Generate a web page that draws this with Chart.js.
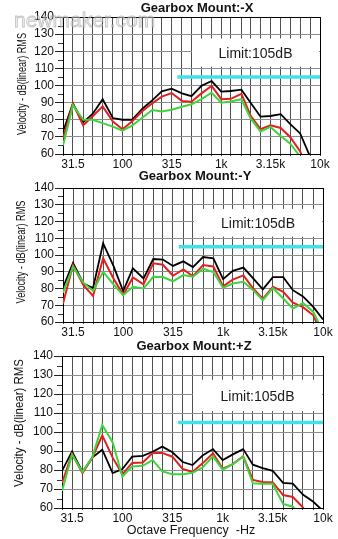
<!DOCTYPE html>
<html><head><meta charset="utf-8">
<script src="https://cdn.jsdelivr.net/npm/chart.js@4.4.1/dist/chart.umd.min.js"></script>
<style>
html,body{margin:0;padding:0;background:#fff;width:338px;height:539px;overflow:hidden}
canvas{position:absolute;left:0}
</style></head><body>
<canvas id="c1" width="338" height="170" style="top:0px"></canvas>
<canvas id="c2" width="338" height="170" style="top:170px"></canvas>
<canvas id="c3" width="338" height="199" style="top:340px"></canvas>
<script>
// 1/3-octave band centre frequencies (Hz) and their labels
const bands = [25,31.5,40,50,63,80,100,125,160,200,250,315,400,500,630,800,1000,1250,1600,2000,2500,3150,4000,5000,6300,8000,10000];
const bandLabels = ['25','31.5','40','50','63','80','100','125','160','200','250','315','400','500','630','800','1k','1.25k','1.6k','2k','2.5k','3.15k','4k','5k','6.3k','8k','10k'];
const shownLabels = ['31.5','100','315','1k','3.15k','10k'];
const yTicks = [60,70,80,90,100,110,120,130,140];

// Limit line
const limitLevel = 105;
const limitFromHz = 360;
const limitToHz = 10000;
const limitText = 'Limit:105dB';

// Gearbox Mount:-X
const xBlack = [73,89.5,78.5,83.5,92,81,80,80,86.6,91.3,96.6,98.2,95.4,93.8,99.8,102.6,96.4,96.8,97.6,89.6,81.8,82.2,83.3,77.5,72,58,null];
const xRed   = [69,89.5,76.8,82,87.8,79,74.5,79,85.2,89.6,93.5,95.6,91,90.5,95.4,99.7,92,92.2,95.1,82,74.5,76.8,75.2,69.8,61.5,47,null];
const xGreen = [65,88.5,80,80,78,76,73.6,76.6,81.3,85.7,84.8,85.8,87.6,89,92,95.8,90,90.6,92,80.5,73.2,75.8,70.5,66,58.5,null,null];

// Gearbox Mount:-Y
const yBlack = [80.5,95.2,83,80.3,107,93.5,78.5,92,86,97.6,97.3,93.5,96.2,92.8,98.8,98,85.6,90.5,92.5,86,79.5,86.8,86.8,79,75.3,69,61.5];
const yRed   = [71,94,82,75.6,98,86,76.2,86.6,82.5,95,94.2,87.6,91.4,87.3,94,93.2,81.3,85.3,87.8,80,73.8,81,78,71.6,68.9,64,51];
const yGreen = [77.5,93,83.5,78.5,90,82.5,76,81,80,87,86.8,84.3,88,87,91.8,89.8,80.4,83,84,79,73,80.3,74,68,71.3,66,54];

// Gearbox Mount:+Z
const zBlack = [79.5,89.8,79,86.5,90.7,78.4,80.5,87,87.4,89.6,92.3,89.3,84.2,82.6,87.6,91,85.2,88.1,91,82.8,81,79.6,73.2,72.8,67.1,63.3,58.5];
const zRed   = [73.2,88.4,78.4,86.3,98.2,86.5,77.7,83.7,84,88.9,89,87,80.5,79,83.5,88.8,80.7,83,87.2,74.8,73.7,73.6,66.8,65.8,60.3,52,null];
const zGreen = [69,88.2,79,86.5,103.7,94.5,76.5,81.8,82.2,85.3,79.3,77.7,77.8,78.5,81.3,87.2,80.2,83,87,73,72.8,72.8,62.1,60.7,55,null,null];

const FONT = '"Liberation Sans", Arial, sans-serif';

const decor = {
  id: 'decor',
  beforeDatasetsDraw(chart, args, o) {
    const {ctx, chartArea: ca} = chart;
    const x = chart.scales.x, y = chart.scales.y;
    ctx.save();
    // white label box
    const x0 = Math.round(x.getPixelForValue(o.boxFromHz)) + 1;
    const x1 = ca.right - 1;
    const y0 = y.getPixelForValue(o.boxTop), y1 = y.getPixelForValue(o.boxBottom);
    ctx.fillStyle = '#fff';
    ctx.fillRect(x0, y0, x1 - x0, y1 - y0);
    ctx.fillStyle = '#1a1a1a';
    ctx.font = '14px ' + FONT;
    ctx.textAlign = 'center';
    ctx.textBaseline = 'middle';
    ctx.fillText(limitText, (x0 + x1) / 2, y.getPixelForValue(o.textAt));
    // minor y ticks
    ctx.strokeStyle = '#333';
    ctx.lineWidth = 1;
    for (let v = 65; v < 140; v += 10) {
      const py = Math.round(y.getPixelForValue(v)) + 0.5;
      ctx.beginPath(); ctx.moveTo(ca.left - 5, py); ctx.lineTo(ca.left, py); ctx.stroke();
    }
    ctx.restore();
  },
  afterDraw(chart, args, o) {
    const {ctx} = chart;
    ctx.save();
    ctx.fillStyle = '#111';
    ctx.textAlign = 'center';
    ctx.textBaseline = 'middle';
    ctx.font = 'bold 13px ' + FONT;
    ctx.fillText(o.title, o.titleX, o.titleY);
    // y axis title (narrow)
    ctx.save();
    ctx.font = '13px ' + FONT;
    const txt = 'Velocity - dB(linear) RMS';
    const w = ctx.measureText(txt).width;
    ctx.translate(o.yTitleX, o.yTitleY);
    ctx.rotate(-Math.PI / 2);
    ctx.scale(o.yTitleLen / w, 1);
    ctx.fillText(txt, 0, 0);
    ctx.restore();
    if (o.xTitle) {
      ctx.font = '12.5px ' + FONT;
      ctx.fillText(o.xTitle, o.xTitleX, o.xTitleY);
    }
    if (o.watermark) {
      ctx.font = '21px ' + FONT;
      ctx.textAlign = 'left';
      ctx.textBaseline = 'alphabetic';
      ctx.fillStyle = 'rgba(225,225,225,0.55)';
      ctx.fillText(o.watermark, 14, 27);
      ctx.strokeStyle = 'rgba(150,150,150,0.55)';
      ctx.lineWidth = 0.8;
      ctx.strokeText(o.watermark, 14, 27);
    }
    ctx.restore();
  }
};

function pts(arr) { return arr.map((v, i) => ({x: bands[i], y: v})); }

function makeChart(id, blk, red, grn, o) {
  return new Chart(document.getElementById(id), {
    type: 'line',
    data: {
      datasets: [
        {data: pts(grn), borderColor: '#3ed43e', borderWidth: 2},
        {data: pts(red), borderColor: '#e3201f', borderWidth: 2},
        {data: pts(blk), borderColor: '#000000', borderWidth: 1.8},
        {data: [{x: limitFromHz, y: limitLevel}, {x: limitToHz, y: limitLevel}], borderColor: '#3fe2ea', borderWidth: 3.5, borderCapStyle: 'butt'}
      ]
    },
    options: {
      responsive: false, animation: false, devicePixelRatio: 1, events: [],
      layout: {padding: {left: 0, top: o.top, right: o.right, bottom: 0}},
      elements: {point: {radius: 0}, line: {tension: 0, fill: false}},
      plugins: {legend: {display: false}, tooltip: {enabled: false}, decor: o},
      scales: {
        x: {
          type: 'logarithmic', min: bands[0], max: bands[bands.length - 1],
          afterBuildTicks: s => { s.ticks = bands.map(v => ({value: v})); },
          afterFit: s => { s.height = o.xh; },
          grid: {color: c => (c.tick && c.tick.value === 10000) ? '#000' : '#505050', lineWidth: 1, tickLength: 2, tickColor: '#444'},
          border: {color: '#000', width: 1},
          ticks: {
            autoSkip: false, maxRotation: 0, minRotation: 0, padding: 1, color: '#111',
            font: {family: FONT, size: 12},
            callback: v => { const l = bandLabels[bands.indexOf(v)]; return shownLabels.includes(l) ? l : ''; }
          }
        },
        y: {
          min: yTicks[0], max: yTicks[yTicks.length - 1],
          afterBuildTicks: s => { s.ticks = yTicks.map(v => ({value: v})); },
          afterFit: s => { s.width = o.yw; },
          grid: {color: c => (c.tick && c.tick.value === 140) ? '#000' : '#8c8c8c', lineWidth: 1, tickLength: 8, tickColor: '#222'},
          border: {color: '#000', width: 1},
          ticks: {autoSkip: false, padding: 1, color: '#111', font: {family: FONT, size: 12}}
        }
      }
    },
    plugins: [decor]
  });
}

const common = {boxFromHz: 500, boxTop: 127.5, boxBottom: 111, textAt: 118.5};
makeChart('c1', xBlack, xRed, xGreen, Object.assign({}, common, {
  top: 17, right: 18, xh: 16, yw: 63,
  title: 'Gearbox Mount:-X', titleX: 197, titleY: 8,
  yTitleX: 22, yTitleY: 84, yTitleLen: 102, watermark: 'newmaker.com'
}));
makeChart('c2', yBlack, yRed, yGreen, Object.assign({}, common, {
  top: 18, right: 15, xh: 18, yw: 63,
  title: 'Gearbox Mount:-Y', titleX: 195, titleY: 6,
  yTitleX: 21, yTitleY: 82, yTitleLen: 103
}));
makeChart('c3', zBlack, zRed, zGreen, Object.assign({}, common, {
  top: 16, right: 15, xh: 31, yw: 62,
  title: 'Gearbox Mount:+Z', titleX: 194, titleY: 6,
  yTitleX: 19, yTitleY: 83, yTitleLen: 128,
  xTitle: 'Octave Frequency  -Hz', xTitleX: 191, xTitleY: 191
}));
</script>
</body></html>
